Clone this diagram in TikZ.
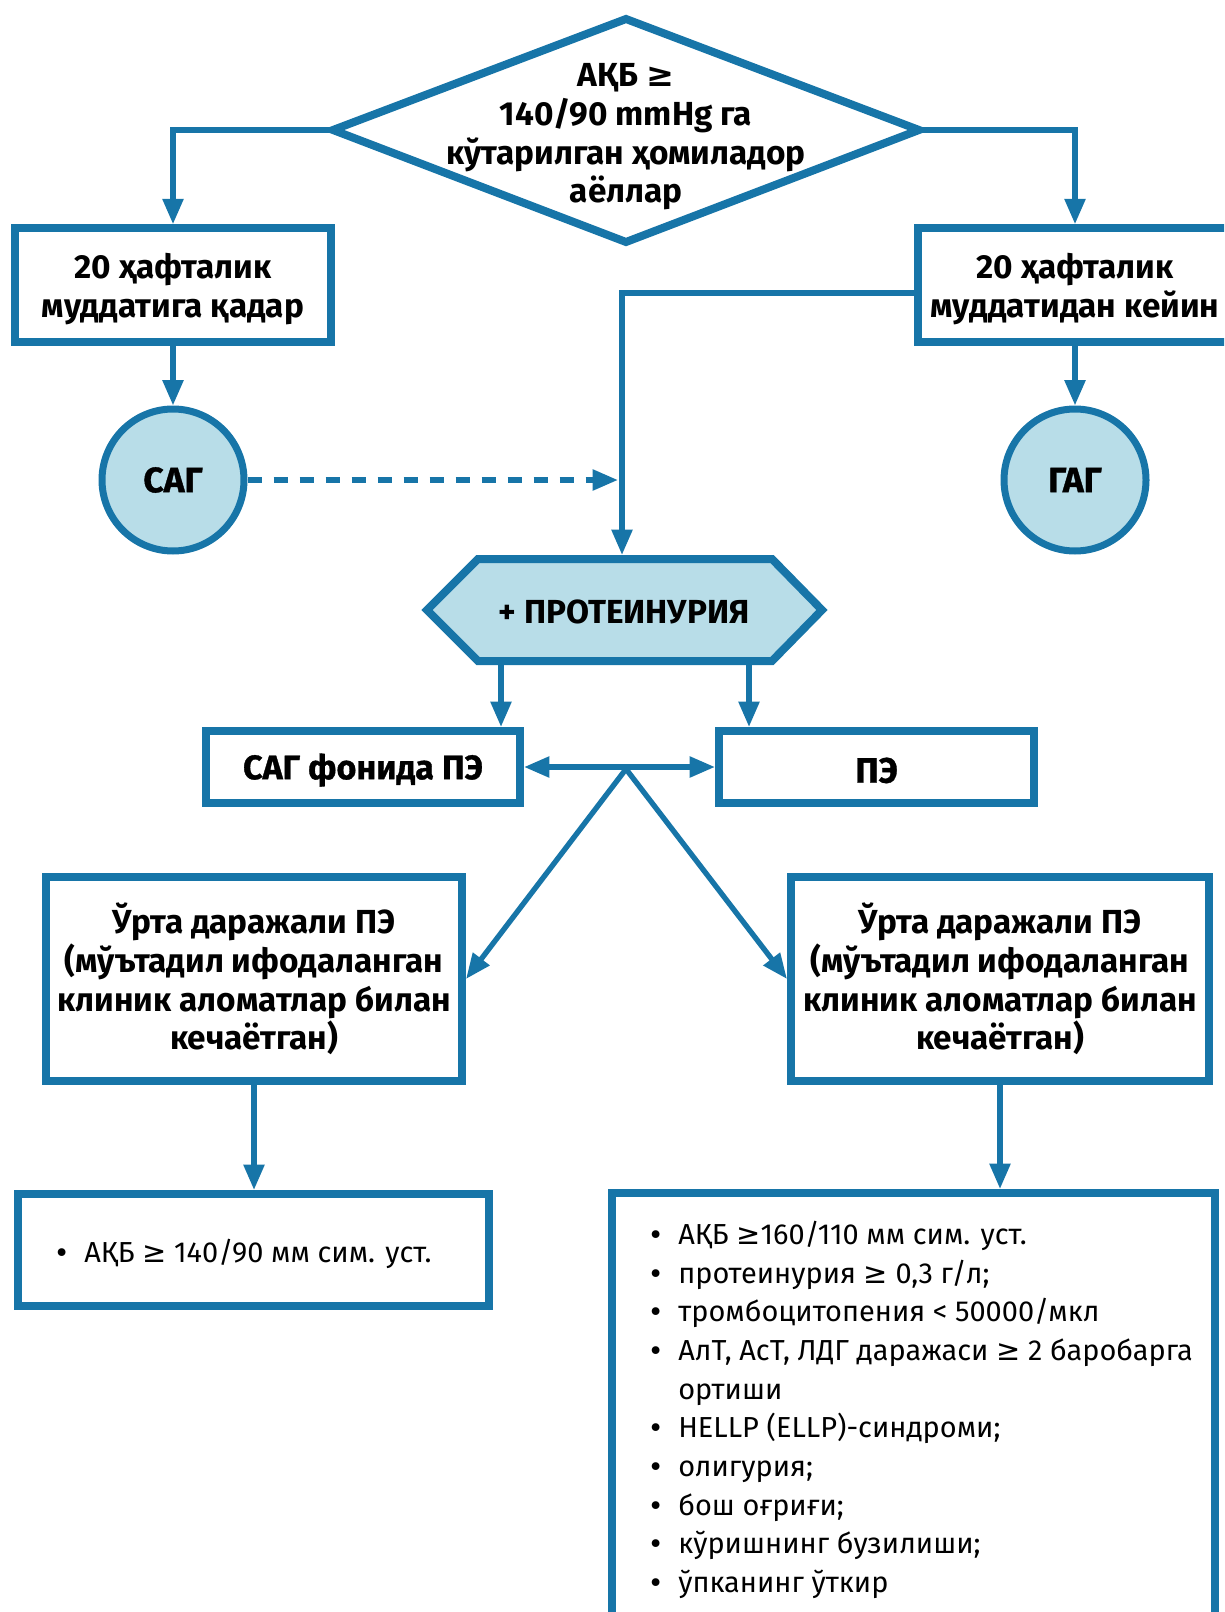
\documentclass[tikz,border=0pt]{standalone}
\usepackage{fontspec}
\setmainfont{Fira Sans}
\newfontfamily\symf{DejaVu Sans}
\newfontfamily\heavyf{Fira Sans}[FakeBold=1]
\usetikzlibrary{arrows.meta,calc}
\definecolor{cblue}{HTML}{1775A8}
\definecolor{cfill}{HTML}{B8DDE8}
\newcommand\mybold{\bfseries\fontsize{25}{29}\selectfont}
\newcommand\myreg{\fontsize{21.7}{29}\selectfont}
\newcommand\mybul{\makebox[0pt][r]{{\symf\fontsize{20}{20}\selectfont •}\hspace{11pt}}}
\newcommand\mygeq{{\symf ≥}}
\newcommand\lift{\rule{0pt}{25pt}}
\begin{document}
\begin{tikzpicture}[x=0.75pt,y=-0.75pt,
  >={Triangle[length=19pt,width=15pt]},
  box/.style={draw=cblue,line width=6pt,fill=white,inner sep=0pt,align=center,font=\mybold},
  circ/.style={circle,draw=cblue,line width=5.25pt,fill=cfill,inner sep=0pt,minimum size=106.5pt,font=\heavyf\bfseries\fontsize{26.5}{28}\selectfont},
  shapeline/.style={draw=cblue,line width=6pt,line join=miter},
  conn/.style={draw=cblue,line width=4pt,->},
  lbl/.style={inner sep=0pt,align=center,font=\mybold}]
\useasboundingbox (0,0) rectangle (1224,1612);
\clip (0,0) rectangle (1224,1612);

% decision diamond
\coordinate (dT) at (626,19);
\coordinate (dL) at (333,130);
\coordinate (dR) at (919,130);
\coordinate (dB) at (626,242);
\draw[shapeline,fill=white] (dT) -- (dR) -- (dB) -- (dL) -- cycle;
\node[lbl] (dtext) at (626,137) {АҚБ \mygeq\\140/90 mmHg га\\кўтарилган ҳомиладор\\аёллар};

% upper boxes
\node[box,minimum width=236.6pt,minimum height=85.1pt] (b1) at (173,285) {\lift 20 ҳафталик\\муддатига қадар};
\node[box,minimum width=235.5pt,minimum height=85.1pt] (b2) at (1075,285) {\lift 20 ҳафталик\\муддатидан кейин};
\draw[conn] (dL) -| (b1.north);
\draw[conn] (dR) -| (b2.north);

% circles
\node[circ] (c1) at (173,480) {САГ};
\node[circ] (c2) at (1075,480) {ГАГ};
\draw[conn] (b1.south) -- (c1.north);
\draw[conn] (b2.south) -- (c2.north);

% hexagon
\coordinate (hL) at (427,610);
\coordinate (hTL) at (478,559);
\coordinate (hTR) at (772,559);
\coordinate (hR) at (822,610);
\coordinate (hBR) at (772,661);
\coordinate (hBL) at (478,661);
\draw[shapeline,fill=cfill] (hL) -- (hTL) -- (hTR) -- (hR) -- (hBR) -- (hBL) -- cycle;
\node[inner sep=0pt,font=\bfseries\fontsize{25}{28}\selectfont] (htext) at (624,612) {+ ПРОТЕИНУРИЯ};
\coordinate (hTop) at (622,555);
\coordinate (hB1) at (501,665);
\coordinate (hB2) at (749,665);

\coordinate (bjoin) at ($(b2.west)+(0,8)$);
\draw[conn] (bjoin) -| (hTop);
\coordinate (dashend) at (618,480);
\draw[conn,dash pattern=on 10.5pt off 9pt] (c1.east) -- (dashend);

% PE boxes
\node[box,minimum width=235.5pt,minimum height=54pt,font=\heavyf\bfseries\fontsize{25.5}{28}\selectfont] (p1) at (363,767) {\rule{0pt}{24pt}САГ фонида ПЭ};
\node[box,minimum width=236.25pt,minimum height=54pt,font=\heavyf\bfseries\fontsize{26.5}{28}\selectfont] (p2) at (876.5,767) {\rule{0pt}{24pt}ПЭ};
\draw[conn] (hB1) -- (hB1 |- p1.north);
\draw[conn] (hB2) -- (hB2 |- p2.north);
\draw[conn,<->] (p1.east) -- (p2.west);

% severity boxes
\node[box,minimum width=312pt,minimum height=153pt] (m1) at (254,979) {Ўрта даражали ПЭ\\(мўътадил ифодаланган\\клиник аломатлар билан\\кечаётган)};
\node[box,minimum width=313.5pt,minimum height=153pt] (m2) at (1000,979) {Ўрта даражали ПЭ\\(мўътадил ифодаланган\\клиник аломатлар билан\\кечаётган)};
\coordinate (apex) at (626,769);
\draw[conn] (apex) -- (m1.east);
\draw[conn] (apex) -- (m2.west);

% criteria boxes
\node[box,minimum width=353.25pt,minimum height=84pt] (r1) at (253.5,1250) {};
\node[box,minimum width=452.25pt,minimum height=342.75pt] (r2) at (913.5,1421.5) {};
\draw[conn] (m1.south) -- (m1.south |- r1.north);
\draw[conn] (m2.south) -- (m2.south |- r2.north);
\node[anchor=base west,inner sep=0pt,font=\myreg] (r1t) at (84,1262) {\mybul АҚБ \mygeq{} 140/90 мм сим. уст.};
\node[anchor=north west,inner sep=0pt,align=left,font=\myreg] (r2t) at (678,1221) {\mybul АҚБ \mygeq160/110 мм сим. уст.\\
\mybul протеинурия \mygeq{} 0,3 г/л;\\
\mybul тромбоцитопения < 50000/мкл\\
\mybul АлТ, АсТ, ЛДГ даражаси \mygeq{} 2 баробарга\\
ортиши\\
\mybul HELLP (ELLP)-синдроми;\\
\mybul олигурия;\\
\mybul бош оғриғи;\\
\mybul кўришнинг бузилиши;\\
\mybul ўпканинг ўткир};
\end{tikzpicture}
\end{document}
